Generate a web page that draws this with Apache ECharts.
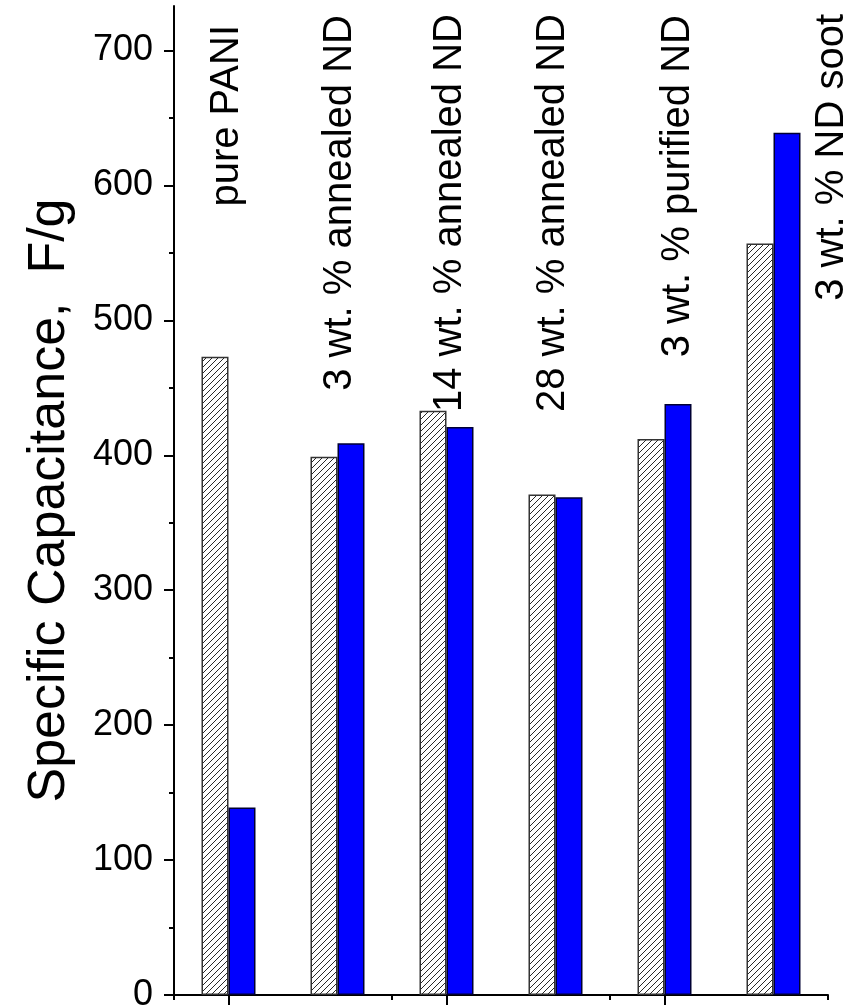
<!DOCTYPE html>
<html>
<head>
<meta charset="utf-8">
<script src="https://cdn.jsdelivr.net/npm/echarts@6/dist/echarts.min.js"></script>
<style>
  html, body { margin: 0; padding: 0; background: #fff; }
  #chart { width: 857px; height: 1006px; }
</style>
</head>
<body>
<div id="chart"></div>
<script>
  // data
  const categories = ['pure PANI', '3 wt. % annealed ND', '14 wt. % annealed ND',
    '28 wt. % annealed ND', '3 wt. % purified ND', '3 wt. % ND soot']
  const hatchedValues = [473, 399, 433, 371, 412, 557]
  const blueValues = [139, 409, 421, 369, 438, 639]
  const yTicks = [0, 100, 200, 300, 400, 500, 600, 700]
  const yMinorTicks = [50, 150, 250, 350, 450, 550, 650]

  // where the rotated group labels sit (x of the text column, y of its top end)
  const labelX = [227, 340, 450, 553, 678, 832]
  const labelTop = [25, 15, 14, 14, 15, 14]

  const FONT = '"Liberation Sans", Arial, sans-serif'

  function hatchPattern () {
    const c = document.createElement('canvas')
    c.width = 6
    c.height = 6
    const ctx = c.getContext('2d')
    ctx.fillStyle = '#fff'
    ctx.fillRect(0, 0, 6, 6)
    ctx.strokeStyle = '#111'
    ctx.lineWidth = 0.9
    ctx.beginPath()
    ctx.moveTo(-1, 7); ctx.lineTo(7, -1)
    ctx.moveTo(-1, 1); ctx.lineTo(1, -1)
    ctx.moveTo(5, 7); ctx.lineTo(7, 5)
    ctx.stroke()
    return c
  }

  const chart = echarts.init(document.getElementById('chart'))

  chart.setOption({
    animation: false,
    grid: { left: 174, right: 29, top: 6, bottom: 11, containLabel: false, outerBoundsMode: 'none' },
    xAxis: [
      {
        type: 'category',
        position: 'bottom',
        data: categories,
        axisLine: { lineStyle: { color: '#000', width: 2 } },
        axisTick: { show: true, alignWithLabel: true, length: 10, lineStyle: { color: '#000', width: 2 } },
        axisLabel: { show: false }
      },
      {
        type: 'category',
        position: 'bottom',
        data: categories,
        axisLine: { show: false },
        axisTick: { show: true, length: 5, lineStyle: { color: '#000', width: 2 } },
        axisLabel: { show: false }
      }
    ],
    yAxis: [
      {
        type: 'value',
        position: 'left',
        min: 0,
        max: 733,
        interval: 100,
        name: 'Specific Capacitance,  F/g',
        nameLocation: 'middle',
        nameRotate: 90,
        nameGap: 98,
        nameTextStyle: { fontFamily: FONT, fontSize: 52, color: '#000' },
        splitLine: { show: false },
        axisLine: { show: true, lineStyle: { color: '#000', width: 2 } },
        axisTick: { show: true, length: 10, customValues: yTicks, lineStyle: { color: '#000', width: 2 } },
        axisLabel: { customValues: yTicks, margin: 21, fontFamily: FONT, fontSize: 36, color: '#000' }
      },
      {
        type: 'value',
        position: 'left',
        offset: 0,
        min: 0,
        max: 733,
        splitLine: { show: false },
        axisLine: { show: false },
        axisTick: { show: true, length: 5, customValues: yMinorTicks, lineStyle: { color: '#000', width: 2 } },
        axisLabel: { show: false }
      }
    ],
    series: [
      {
        type: 'bar',
        data: hatchedValues,
        barWidth: 27,
        barGap: '0%',
        itemStyle: {
          color: { image: hatchPattern(), repeat: 'repeat' },
          borderColor: '#333',
          borderWidth: 1.5
        }
      },
      {
        type: 'bar',
        data: blueValues,
        barWidth: 27,
        barGap: '0%',
        itemStyle: {
          color: '#0000ff',
          borderColor: '#000033',
          borderWidth: 1.5
        }
      }
    ],
    graphic: categories.map((name, i) => ({
      type: 'text',
      x: labelX[i],
      y: labelTop[i],
      rotation: Math.PI / 2,
      style: {
        text: name,
        font: '40px ' + FONT,
        fill: '#000',
        align: 'right',
        verticalAlign: 'middle'
      }
    }))
  })
</script>
</body>
</html>
